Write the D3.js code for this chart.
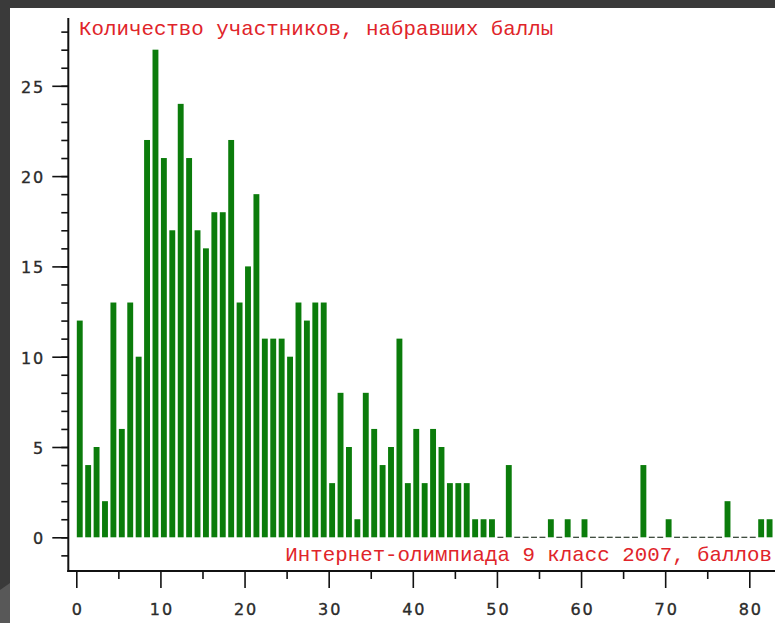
<!DOCTYPE html>
<html>
<head>
<meta charset="utf-8">
<script src="https://cdn.jsdelivr.net/npm/d3@7"></script>
<style>
  html, body { margin: 0; padding: 0; background: #3a3a3a; }
  svg { display: block; }
</style>
</head>
<body>
<svg id="chart" width="775" height="623"></svg>
<script>
// Number of participants per score (scores 0..82)
const scores = d3.range(0, 83);
const counts = [
  12, 4, 5, 2, 13, 6, 13, 10, 22, 27,
  21, 17, 24, 21, 17, 16, 18, 18, 22, 13,
  15, 19, 11, 11, 11, 10, 13, 12, 13, 13,
  3, 8, 5, 1, 8, 6, 4, 5, 11, 3,
  6, 3, 6, 5, 3, 3, 3, 1, 1, 1,
  0, 4, 0, 0, 0, 0, 1, 0, 1, 0,
  1, 0, 0, 0, 0, 0, 0, 4, 0, 0,
  1, 0, 0, 0, 0, 0, 0, 2, 0, 0,
  0, 1, 1
];
const xMajorTicks = [0, 10, 20, 30, 40, 50, 60, 70, 80];
const xMinorTicks = [5, 15, 25, 35, 45, 55, 65, 75];
const yMajorTicks = [0, 5, 10, 15, 20, 25];
const yMinorTicks = d3.range(-1, 29);
const titleText = "Количество участников, набравших баллы";
const xTitleText = "Интернет-олимпиада 9 класс 2007, баллов";

const W = 775, H = 623;
const svg = d3.select("#chart");

// dark frame with the white plotting panel
svg.append("rect").attr("x", 0).attr("y", 0).attr("width", W).attr("height", H).attr("fill", "#3a3a3a");
svg.append("polygon")
  .attr("points", "0,590 10,583 10,623 0,623")
  .attr("fill", "#585858");
svg.append("rect").attr("x", 10).attr("y", 8).attr("width", W - 10).attr("height", H - 8).attr("fill", "#ffffff");

const x = d3.scaleLinear().domain([0, 80]).range([76.3, 749.3]);
const y = d3.scaleLinear().domain([0, 25]).range([537.3, 85.8]);
const unit = x(1) - x(0);
const barW = unit * 0.7;

const axisX0 = 68.3;   // vertical axis position
const axisY0 = 571;    // horizontal axis position

const plot = svg.append("g");

// bars
plot.selectAll("rect.bar")
  .data(scores.filter(s => counts[s] > 0))
  .join("rect")
  .attr("class", "bar")
  .attr("x", s => x(s + 0.06))
  .attr("y", s => y(counts[s]))
  .attr("width", barW)
  .attr("height", s => y(0) - y(counts[s]))
  .attr("fill", "#0b7c0b");

// zero-height bars show as short dark strokes on the baseline
plot.selectAll("line.zero")
  .data(scores.filter(s => counts[s] === 0))
  .join("line")
  .attr("class", "zero")
  .attr("x1", s => x(s + 0.06))
  .attr("x2", s => x(s + 0.06) + barW)
  .attr("y1", y(0))
  .attr("y2", y(0))
  .attr("stroke", "#2c3a2c")
  .attr("stroke-width", 1.2);

// y axis: minor ticks every unit, major every 5 with labels
const yMinor = svg.append("g").attr("transform", `translate(${axisX0},0)`)
  .call(d3.axisLeft(y).tickValues(yMinorTicks).tickSize(7).tickFormat(""));
const yMajor = svg.append("g").attr("transform", `translate(${axisX0},0)`)
  .call(d3.axisLeft(y).tickValues(yMajorTicks).tickSize(16).tickPadding(7).tickFormat(d3.format("d")));

// x axis: major ticks every 10 with labels, minor in between
const xMinor = svg.append("g").attr("transform", `translate(0,${axisY0})`)
  .call(d3.axisBottom(x).tickValues(xMinorTicks).tickSize(8).tickFormat(""));
const xMajor = svg.append("g").attr("transform", `translate(0,${axisY0})`)
  .call(d3.axisBottom(x).tickValues(xMajorTicks).tickSize(17).tickPadding(16).tickFormat(d3.format("d")));

[yMinor, yMajor, xMinor, xMajor].forEach(g => {
  g.select(".domain").remove();
  g.selectAll(".tick line").attr("stroke", "#111").attr("stroke-width", 1.6);
});
[yMajor, xMajor].forEach(g => {
  g.selectAll(".tick text")
    .attr("fill", "#2b2b2b")
    .attr("stroke", "#2b2b2b")
    .attr("stroke-width", 0.35)
    .style("font-family", "'DejaVu Sans', Verdana, sans-serif")
    .style("font-size", "16px")
    .style("letter-spacing", "2px");
});
yMajor.selectAll(".tick text").attr("dy", "0.4em");
xMajor.selectAll(".tick text").attr("dx", "1px");

// axis lines
svg.append("line")
  .attr("x1", axisX0).attr("x2", axisX0)
  .attr("y1", 18).attr("y2", axisY0 + 1)
  .attr("stroke", "#111").attr("stroke-width", 2);
svg.append("line")
  .attr("x1", axisX0 - 1).attr("x2", W)
  .attr("y1", axisY0).attr("y2", axisY0)
  .attr("stroke", "#111").attr("stroke-width", 2);

// titles
svg.append("text")
  .attr("x", 79).attr("y", 34.5)
  .attr("fill", "#e0242a")
  .style("font-family", "'Liberation Mono', 'Courier New', monospace")
  .style("font-size", "20.8px")
  .text(titleText);
svg.append("text")
  .attr("x", 772).attr("y", 561)
  .attr("text-anchor", "end")
  .attr("fill", "#e0242a")
  .style("font-family", "'Liberation Mono', 'Courier New', monospace")
  .style("font-size", "20.8px")
  .text(xTitleText);
</script>
</body>
</html>
